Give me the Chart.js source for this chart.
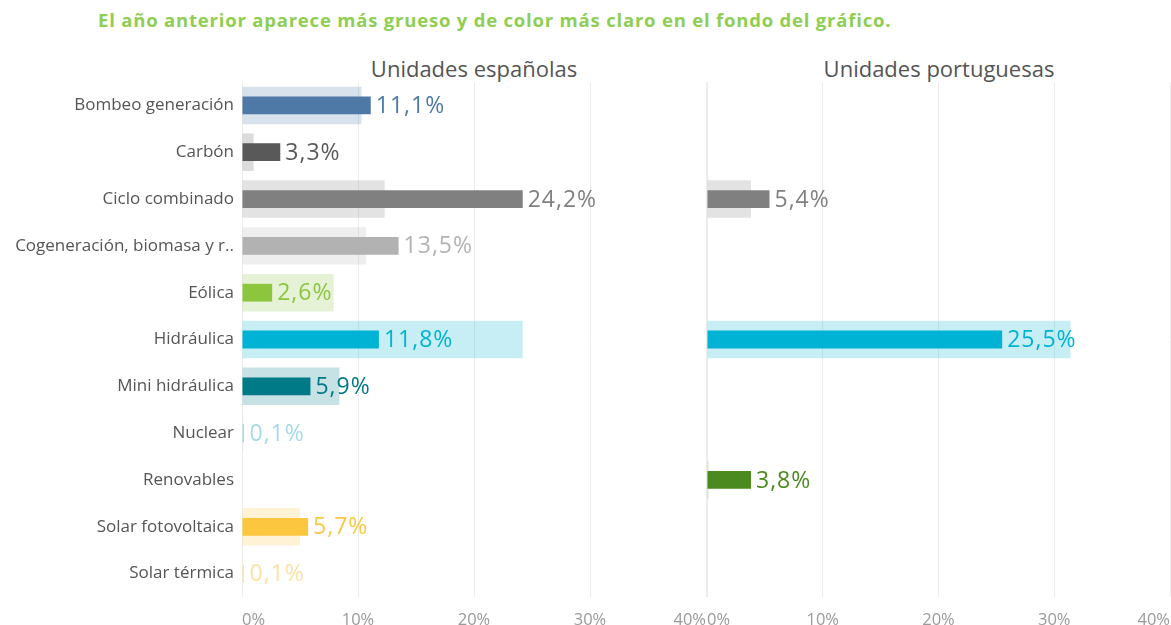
<!DOCTYPE html>
<html>
<head>
<meta charset="utf-8">
<script src="https://cdn.jsdelivr.net/npm/chart.js@4"></script>
<style>
  html, body { margin: 0; padding: 0; background: #ffffff; }
  body { width: 1171px; height: 625px; position: relative; overflow: hidden; font-family: "Open Sans", sans-serif; }
  canvas { position: absolute; top: 0; }
  #cEs { left: 0; }
  #cPt { left: 690px; }
  .t { position: absolute; white-space: nowrap; }
  #mainTitle { left: 98px; top: 7px; font-size: 18.5px; font-weight: 700; letter-spacing: 0.8px; color: #8fce52; }
  .panelTitle { top: 53px; font-size: 22px; color: #555555; transform: translateX(-50%); }
</style>
</head>
<body>
<div id="mainTitle" class="t">El año anterior aparece más grueso y de color más claro en el fondo del gráfico.</div>
<div class="t panelTitle" style="left:474px;">Unidades españolas</div>
<div class="t panelTitle" style="left:939px;">Unidades portuguesas</div>
<canvas id="cEs" width="707" height="625"></canvas>
<canvas id="cPt" width="481" height="625"></canvas>
<script>
const categories = ["Bombeo generación", "Carbón", "Ciclo combinado", "Cogeneración, biomasa y r..", "Eólica", "Hidráulica", "Mini hidráulica", "Nuclear", "Renovables", "Solar fotovoltaica", "Solar térmica"];
const esActual = [11.1, 3.3, 24.2, 13.5, 2.6, 11.8, 5.9, 0.1, null, 5.7, 0.1];
const esAnterior = [10.3, 1.0, 12.3, 10.7, 7.9, 24.2, 8.4, 0.1, null, 5.0, null];
const ptActual = [null, null, 5.4, null, null, 25.5, null, null, 3.8, null, null];
const ptAnterior = [null, null, 3.8, null, null, 31.4, null, null, 0.1, null, null];
const colors = ["#4e79a7", "#595959", "#808080", "#b2b2b2", "#8cc63f", "#00b2d3", "#007a87", "#a6d9ea", "#4a8a1e", "#fdc63f", "#fde2a2"];
const xTicks = [0, 10, 20, 30, 40];

function alpha(hex, a) {
  const r = parseInt(hex.slice(1, 3), 16), g = parseInt(hex.slice(3, 5), 16), b = parseInt(hex.slice(5, 7), 16);
  return `rgba(${r},${g},${b},${a})`;
}

const valueLabels = {
  id: 'valueLabels',
  afterDatasetsDraw(chart) {
    const ctx = chart.ctx;
    const meta = chart.getDatasetMeta(1);
    const data = chart.data.datasets[1].data;
    ctx.save();
    ctx.font = '23px "Open Sans", sans-serif';
    if ('letterSpacing' in ctx) ctx.letterSpacing = '1px';
    ctx.textBaseline = 'middle';
    ctx.textAlign = 'left';
    meta.data.forEach((bar, i) => {
      const v = data[i];
      if (v === null || v === undefined) return;
      ctx.fillStyle = colors[i];
      const xEnd = Math.max(bar.x, bar.base + 2);
      ctx.fillText(v.toFixed(1).replace('.', ',') + '%', xEnd + 5, bar.y + 1);
    });
    ctx.restore();
  }
};

function makeChart(id, actual, anterior, showLabels, padLeft, yWidth) {
  return new Chart(document.getElementById(id), {
    type: 'bar',
    data: {
      labels: categories,
      datasets: [
        {
          label: 'Año anterior',
          data: anterior,
          backgroundColor: colors.map(c => alpha(c, 0.22)),
          barPercentage: 0.8,
          categoryPercentage: 1,
          grouped: false,
          minBarLength: 1.5,
          order: 2
        },
        {
          label: 'Año actual',
          data: actual,
          backgroundColor: colors,
          barPercentage: 0.38,
          categoryPercentage: 1,
          grouped: false,
          minBarLength: 2,
          order: 1
        }
      ]
    },
    options: {
      indexAxis: 'y',
      responsive: false,
      devicePixelRatio: 1,
      animation: false,
      layout: { padding: { top: 82, bottom: 0, left: padLeft, right: 1 } },
      plugins: { legend: { display: false }, tooltip: { enabled: false } },
      scales: {
        x: {
          min: 0, max: 40,
          afterBuildTicks(scale) { scale.ticks = xTicks.map(v => ({ value: v })); },
          afterFit(scale) { scale.height = 28; scale.paddingLeft = 0; scale.paddingRight = 0; },
          grid: { color: '#ececec', drawTicks: false },
          border: { display: false },
          ticks: {
            align: 'inner',
            padding: 13,
            color: '#9a9a9a',
            font: { family: '"Open Sans", sans-serif', size: 16.5 },
            callback: v => v + '%'
          }
        },
        y: {
          display: showLabels,
          afterFit(scale) { scale.width = yWidth; },
          grid: { display: false, drawTicks: false },
          border: { display: false },
          ticks: {
            padding: 8,
            color: '#555555',
            font: { family: '"Open Sans", sans-serif', size: 17 }
          }
        }
      }
    },
    plugins: [valueLabels]
  });
}

makeChart('cEs', esActual, esAnterior, true, 0, 242);
makeChart('cPt', ptActual, ptAnterior, false, 17, 0);
</script>
</body>
</html>
